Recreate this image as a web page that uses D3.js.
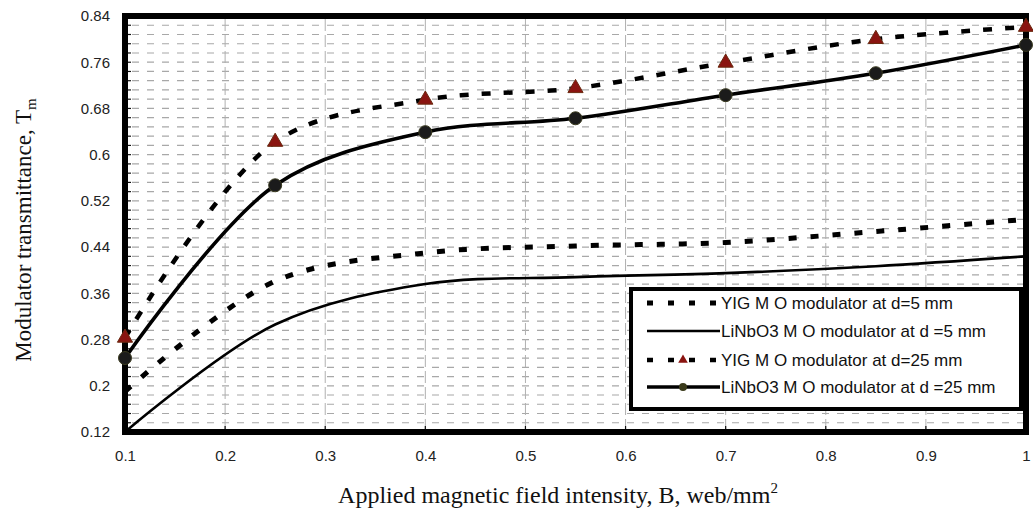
<!DOCTYPE html>
<html>
<head>
<meta charset="utf-8">
<script src="https://cdn.jsdelivr.net/npm/d3@7"></script>
<style>
    body { margin: 0; background: #fff; }
    svg { display: block; }
</style>
</head>
<body>
<svg id="chart" width="1033" height="513"></svg>
<script>

    // values
    var fieldB = [0.1, 0.25, 0.4, 0.55, 0.7, 0.85, 1.0];
    var yig5 = [0.19, 0.381, 0.430, 0.442, 0.448, 0.467, 0.488];
    var linbo5 = [0.12, 0.306, 0.376, 0.388, 0.395, 0.407, 0.424];
    var yig25 = [0.283, 0.622, 0.695, 0.715, 0.759, 0.800, 0.821];
    var linbo25 = [0.248, 0.547, 0.639, 0.663, 0.703, 0.741, 0.790];

    var xTicks = [0.1, 0.2, 0.3, 0.4, 0.5, 0.6, 0.7, 0.8, 0.9, 1.0];
    var xTickLabels = ["0.1", "0.2", "0.3", "0.4", "0.5", "0.6", "0.7", "0.8", "0.9", "1"];
    var yTicks = [0.12, 0.2, 0.28, 0.36, 0.44, 0.52, 0.6, 0.68, 0.76, 0.84];
    var yTickLabels = ["0.12", "0.2", "0.28", "0.36", "0.44", "0.52", "0.6", "0.68", "0.76", "0.84"];
    var yMinorStep = 0.016;

    var legendLabels = [
        "YIG M O modulator at d=5 mm",
        "LiNbO3 M O modulator at d =5 mm",
        "YIG M O modulator at d=25 mm",
        "LiNbO3 M O modulator at d =25 mm"
    ];

(function() {

    var padL = 125, padR = 1026, padT = 16, padB = 432;

    var svg = d3.select("#chart");

    var x = d3.scaleLinear().domain([0.1, 1.0]).range([padL, padR]);
    var y = d3.scaleLinear().domain([0.12, 0.84]).range([padB, padT]);

    // horizontal minor grid (every 0.016)
    var gridVals = d3.range(1, Math.round(0.72 / yMinorStep)).map(function(i) {
        return 0.12 + i * yMinorStep;
    });

    svg.append("g").selectAll("line")
        .data(gridVals)
        .enter()
        .append("line")
        .attr("x1", padL + 3)
        .attr("x2", padR - 3)
        .attr("y1", function(d) { return y(d); })
        .attr("y2", function(d) { return y(d); })
        .style("stroke", "#a8a8a8")
        .style("stroke-width", 1.2)
        .style("stroke-dasharray", "7,8")
        .style("stroke-dashoffset", -4);

    // vertical grid at each 0.1
    svg.append("g").selectAll("line")
        .data(xTicks.slice(1, -1))
        .enter()
        .append("line")
        .attr("x1", function(d) { return x(d); })
        .attr("x2", function(d) { return x(d); })
        .attr("y1", padT + 3)
        .attr("y2", padB - 3)
        .style("stroke", "#b0b0b0")
        .style("stroke-width", 1)
        .style("stroke-dasharray", "12,4");

    // inner minor ticks on the left, major ticks on the bottom
    svg.append("g").selectAll("line")
        .data(gridVals)
        .enter()
        .append("line")
        .attr("x1", padL)
        .attr("x2", padL + 6)
        .attr("y1", function(d) { return y(d); })
        .attr("y2", function(d) { return y(d); })
        .style("stroke", "#111")
        .style("stroke-width", 1.2);

    svg.append("g").selectAll("line")
        .data(xTicks.slice(1, -1))
        .enter()
        .append("line")
        .attr("x1", function(d) { return x(d); })
        .attr("x2", function(d) { return x(d); })
        .attr("y1", padB)
        .attr("y2", padB - 6)
        .style("stroke", "#111")
        .style("stroke-width", 1.2);

    // plot frame
    svg.append("rect")
        .attr("x", padL)
        .attr("y", padT)
        .attr("width", padR - padL)
        .attr("height", padB - padT)
        .style("fill", "none")
        .style("stroke", "#000")
        .style("stroke-width", 6);

    // axes (labels only)
    var yAxis = d3.axisLeft(y)
        .tickValues(yTicks)
        .tickSize(0)
        .tickPadding(15)
        .tickFormat(function(d, i) { return yTickLabels[i]; });

    var xAxis = d3.axisBottom(x)
        .tickValues(xTicks)
        .tickSize(0)
        .tickPadding(18)
        .tickFormat(function(d, i) { return xTickLabels[i]; });

    svg.append("g")
        .attr("transform", "translate(" + padL + ",0)")
        .call(yAxis)
        .call(function(g) { g.select(".domain").remove(); });

    svg.append("g")
        .attr("transform", "translate(0," + padB + ")")
        .call(xAxis)
        .call(function(g) { g.select(".domain").remove(); });

    svg.selectAll(".tick text")
        .style("font-family", "'Liberation Sans', Arial, sans-serif")
        .style("font-size", "15px")
        .style("fill", "#222");

    // series
    var curve = d3.line()
        .x(function(d) { return x(d[0]); })
        .y(function(d) { return y(d[1]); })
        .curve(d3.curveCatmullRom.alpha(0.5));

    function pairs(vals) {
        return fieldB.map(function(b, i) { return [b, vals[i]]; });
    }

    var series = [
        { vals: yig5, width: 5, dash: "8,14", marker: null },
        { vals: linbo5, width: 2.6, dash: null, marker: null },
        { vals: yig25, width: 4.5, dash: "9,13", marker: "tri" },
        { vals: linbo25, width: 3.6, dash: null, marker: "dot" }
    ];

    series.forEach(function(s) {
        svg.append("path")
            .datum(pairs(s.vals))
            .attr("d", curve)
            .style("fill", "none")
            .style("stroke", "#000")
            .style("stroke-width", s.width)
            .style("stroke-dasharray", s.dash);
    });

    var tri = d3.symbol().type(d3.symbolTriangle).size(100);

    svg.append("g").selectAll("path")
        .data(pairs(yig25))
        .enter()
        .append("path")
        .attr("d", tri)
        .attr("transform", function(d) { return "translate(" + x(d[0]) + "," + y(d[1]) + ")"; })
        .style("fill", "#8a1410")
        .style("stroke", "#6a2a10")
        .style("stroke-width", 1);

    svg.append("g").selectAll("circle")
        .data(pairs(linbo25))
        .enter()
        .append("circle")
        .attr("cx", function(d) { return x(d[0]); })
        .attr("cy", function(d) { return y(d[1]); })
        .attr("r", 6.5)
        .style("fill", "#1b1b1b")
        .style("stroke", "#3b3b20")
        .style("stroke-width", 1);

    // legend
    var lg = svg.append("g");
    lg.append("rect")
        .attr("x", 631)
        .attr("y", 289)
        .attr("width", 390)
        .attr("height", 120)
        .style("fill", "#fff")
        .style("stroke", "#000")
        .style("stroke-width", 4);

    var rowY = [303, 331, 360, 387];
    series.forEach(function(s, i) {
        lg.append("line")
            .attr("x1", 647)
            .attr("x2", 720)
            .attr("y1", rowY[i])
            .attr("y2", rowY[i])
            .style("stroke", "#000")
            .style("stroke-width", s.width)
            .style("stroke-dasharray", s.dash ? "6,15" : null);

        if (s.marker == "tri") {
            lg.append("path")
                .attr("d", d3.symbol().type(d3.symbolTriangle).size(40))
                .attr("transform", "translate(683," + rowY[i] + ")")
                .style("fill", "#8a1410");
        }
        if (s.marker == "dot") {
            lg.append("circle")
                .attr("cx", 683)
                .attr("cy", rowY[i])
                .attr("r", 4)
                .style("fill", "#3a3a1a");
        }

        lg.append("text")
            .attr("x", 721)
            .attr("y", rowY[i])
            .attr("dy", "0.35em")
            .style("font-family", "'Liberation Sans', Arial, sans-serif")
            .style("font-size", "17px")
            .style("fill", "#111")
            .text(legendLabels[i]);
    });

    // axis titles
    var yt = svg.append("text")
        .attr("transform", "translate(31,230) rotate(-90)")
        .attr("text-anchor", "middle")
        .style("font-family", "'Liberation Serif', 'Times New Roman', serif")
        .style("font-size", "23px")
        .style("fill", "#111");
    yt.append("tspan").text("Modulator transmittance, T");
    yt.append("tspan").attr("dy", 5).style("font-size", "15px").text("m");

    var xt = svg.append("text")
        .attr("x", 558)
        .attr("y", 503)
        .attr("text-anchor", "middle")
        .style("font-family", "'Liberation Serif', 'Times New Roman', serif")
        .style("font-size", "24px")
        .style("fill", "#111");
    xt.append("tspan").text("Applied magnetic field intensity, B, web/mm");
    xt.append("tspan").attr("dy", -10).style("font-size", "15px").text("2");

})();
</script>
</body>
</html>
